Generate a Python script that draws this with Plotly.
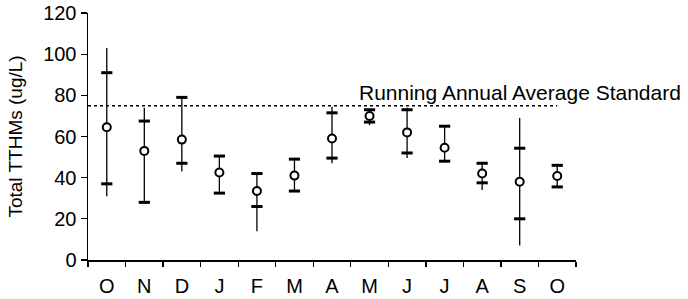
import plotly.graph_objects as go

months = ["O", "N", "D", "J", "F", "M", "A", "M", "J", "J", "A", "S", "O"]
mean_vals = [64.5, 53, 58.5, 42.5, 33.5, 41, 59, 70, 62, 54.5, 42, 38, 40.8]
max_vals = [103, 74, 79, 50.5, 42, 49, 74.5, 73.5, 74, 65.5, 47, 69, 46]
min_vals = [31, 28, 43, 32.5, 14, 33.5, 47, 65.5, 49.5, 48, 34, 7, 35.5]
upper_mark = [91, 67.5, 79, 50.5, 42, 49, 71.5, 73, 73, 65, 47, 54.3, 46]
lower_mark = [37, 28, 47, 32.5, 26, 33.5, 49.5, 67, 52, 48, 37.5, 20, 35.5]
standard = 75
y_ticks = [0, 20, 40, 60, 80, 100, 120]

x = list(range(1, len(months) + 1))
FONT = "Liberation Sans, Arial, sans-serif"

fig = go.Figure()

fig.add_trace(go.Scatter(
    x=x + x, y=upper_mark + lower_mark, mode="markers",
    marker=dict(symbol="line-ew", size=8, line=dict(width=3, color="black")),
    showlegend=False, hoverinfo="skip", cliponaxis=False))

fig.add_trace(go.Scatter(
    x=x, y=mean_vals, mode="markers",
    marker=dict(symbol="circle", size=8, color="white", line=dict(width=2, color="black")),
    error_y=dict(type="data", symmetric=False,
                 array=[a - m for a, m in zip(max_vals, mean_vals)],
                 arrayminus=[m - b for m, b in zip(mean_vals, min_vals)],
                 width=0, thickness=1.3, color="black"),
    showlegend=False, cliponaxis=False))

fig.add_shape(type="line", xref="x", yref="y", x0=0.5, x1=x[-1], y0=standard, y1=standard,
              line=dict(color="black", width=1.5, dash="3px,3px"))

fig.add_annotation(text="Running Annual Average Standard", xref="x", yref="y",
                   x=7.67, y=standard, xanchor="left", yanchor="bottom", yshift=0,
                   showarrow=False, font=dict(size=21, color="black", family=FONT))

fig.update_layout(
    width=688, height=299,
    margin=dict(l=88, r=112, t=13, b=39),
    paper_bgcolor="white", plot_bgcolor="white",
    font=dict(family=FONT, size=20, color="black"),
    xaxis=dict(range=[0.5, len(months) + 0.5], tickmode="array", tickvals=x, ticktext=months,
               ticks="outside", ticklen=7, tickcolor="rgba(0,0,0,0)", automargin=False,
               showline=True, linecolor="black", linewidth=1.5, showgrid=False, zeroline=False,
               minor=dict(tickmode="linear", tick0=0.5, dtick=1, ticks="outside", ticklen=5,
                          tickcolor="black", tickwidth=1.3, showgrid=False),
               tickfont=dict(size=20), fixedrange=True),
    yaxis=dict(range=[0, 120], tickmode="array", tickvals=y_ticks, automargin=False,
               ticks="outside", ticklen=6, tickwidth=1.3, tickcolor="black",
               showline=True, linecolor="black", linewidth=1.5, showgrid=False, zeroline=False,
               tickfont=dict(size=20), fixedrange=True,
               title=dict(text="Total TTHMs (ug/L)", font=dict(size=19), standoff=15)),
)

fig.write_html("out.html", config={"displayModeBar": False, "staticPlot": True},
               post_script="document.body.style.margin='0';document.body.style.overflow='hidden';")
